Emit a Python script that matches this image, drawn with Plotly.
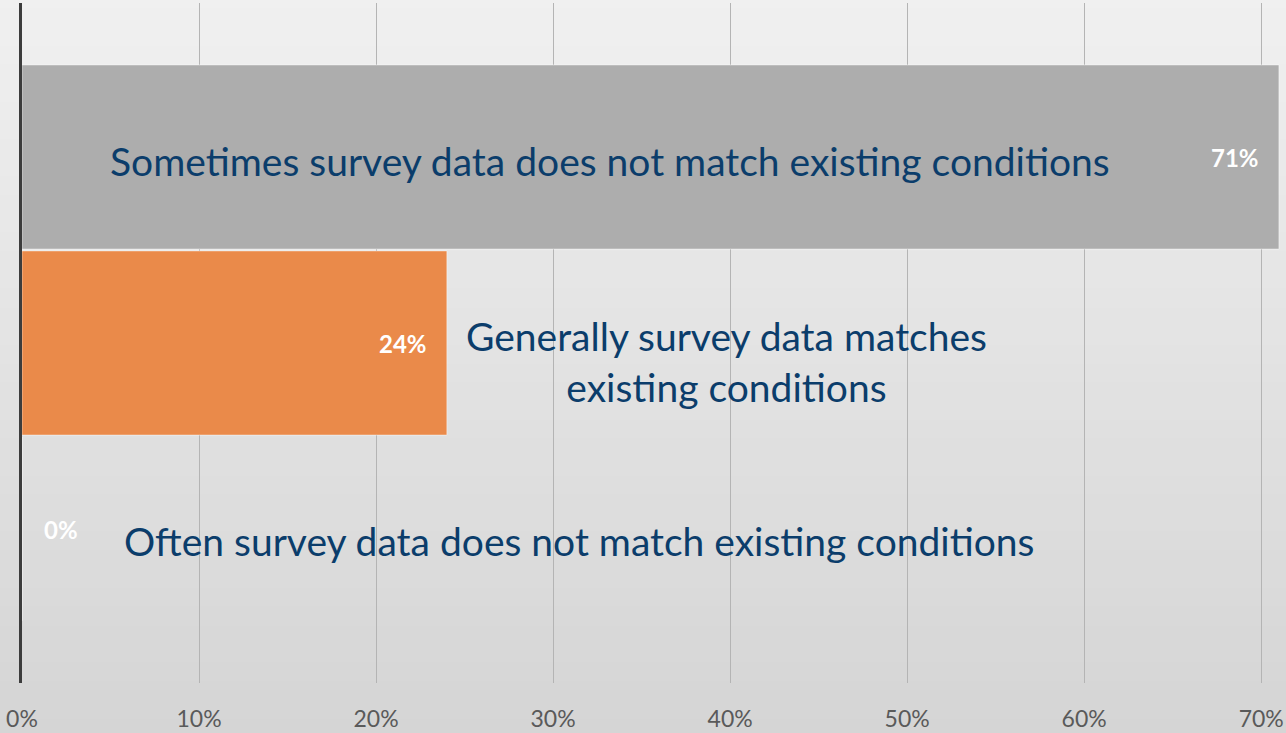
import plotly.graph_objects as go

# survey answers, bottom to top
categorias = [
    "Often survey data does not match existing conditions",
    "Generally survey data matches<br>existing conditions",
    "Sometimes survey data does not match existing conditions",
]
valores = [0, 24, 71]
rotulos = ["0%", "24%", "71%"]
cores = ["#a5a5a5", "#ea8a4a", "#adadad"]
ticks = [0, 10, 20, 30, 40, 50, 60, 70]

fig = go.Figure()
fig.add_trace(go.Bar(
    x=valores,
    y=categorias,
    orientation="h",
    marker=dict(color=cores, line=dict(color="rgba(255,255,255,0.45)", width=1)),
    hoverinfo="skip",
))

# fundo com degradê vertical (claro em cima, mais escuro embaixo)
n = 40
topo, base = 240, 213
for i in range(n):
    c = round(base + (topo - base) * i / (n - 1))
    fig.add_shape(
        type="rect", xref="paper", yref="paper", layer="below",
        x0=-0.03, x1=1.01,
        y0=-0.08 + 1.1 * i / n, y1=-0.08 + 1.1 * (i + 1) / n + 0.002,
        fillcolor=f"rgb({c},{c},{c})", line_width=0,
    )

# nomes das categorias dentro do gráfico
pos_texto = [31.5, 39.8, 33.2]
desloc = [12, 18, 4]
for cat, xp, dy in zip(categorias, pos_texto, desloc):
    fig.add_annotation(
        x=xp, y=cat, text=cat, showarrow=False, yshift=-dy,
        font=dict(family="Lato", size=39, color="#0b3d6b"),
        align="center",
    )

# rótulos de valor (brancos, perto do fim da barra)
for cat, v, r in zip(categorias, valores, rotulos):
    dentro = v > 5
    fig.add_annotation(
        x=v, y=cat, text=r, showarrow=False,
        xanchor="right" if dentro else "left",
        xshift=-18 if dentro else 20,
        font=dict(family="Lato", size=24, color="white", weight="bold"),
    )

fig.update_layout(
    width=1286, height=733,
    margin=dict(t=3, b=50, l=22, r=0),
    paper_bgcolor="#dfdfdf",
    plot_bgcolor="rgba(0,0,0,0)",
    bargap=0.01,
    showlegend=False,
    xaxis=dict(
        range=[0, 71.4],
        tickvals=ticks,
        ticktext=[f"{t}%" for t in ticks],
        showgrid=True, gridcolor="#b4b4b4", gridwidth=1,
        zeroline=False, showline=False,
        tickfont=dict(family="Lato", size=23, color="#5a5a5a"),
        ticklabelstandoff=20,
        automargin=False,
        fixedrange=True,
    ),
    yaxis=dict(
        range=[-0.828, 2.828],
        showticklabels=False,
        showgrid=False,
        showline=True, linecolor="#3c3c3c", linewidth=3,
        automargin=False,
        fixedrange=True,
    ),
)

# tira a margem padrão do <body> para o gráfico ocupar a janela toda
fig.write_html(
    "out.html",
    config={"displayModeBar": False},
    post_script="document.body.style.margin='0';",
)
